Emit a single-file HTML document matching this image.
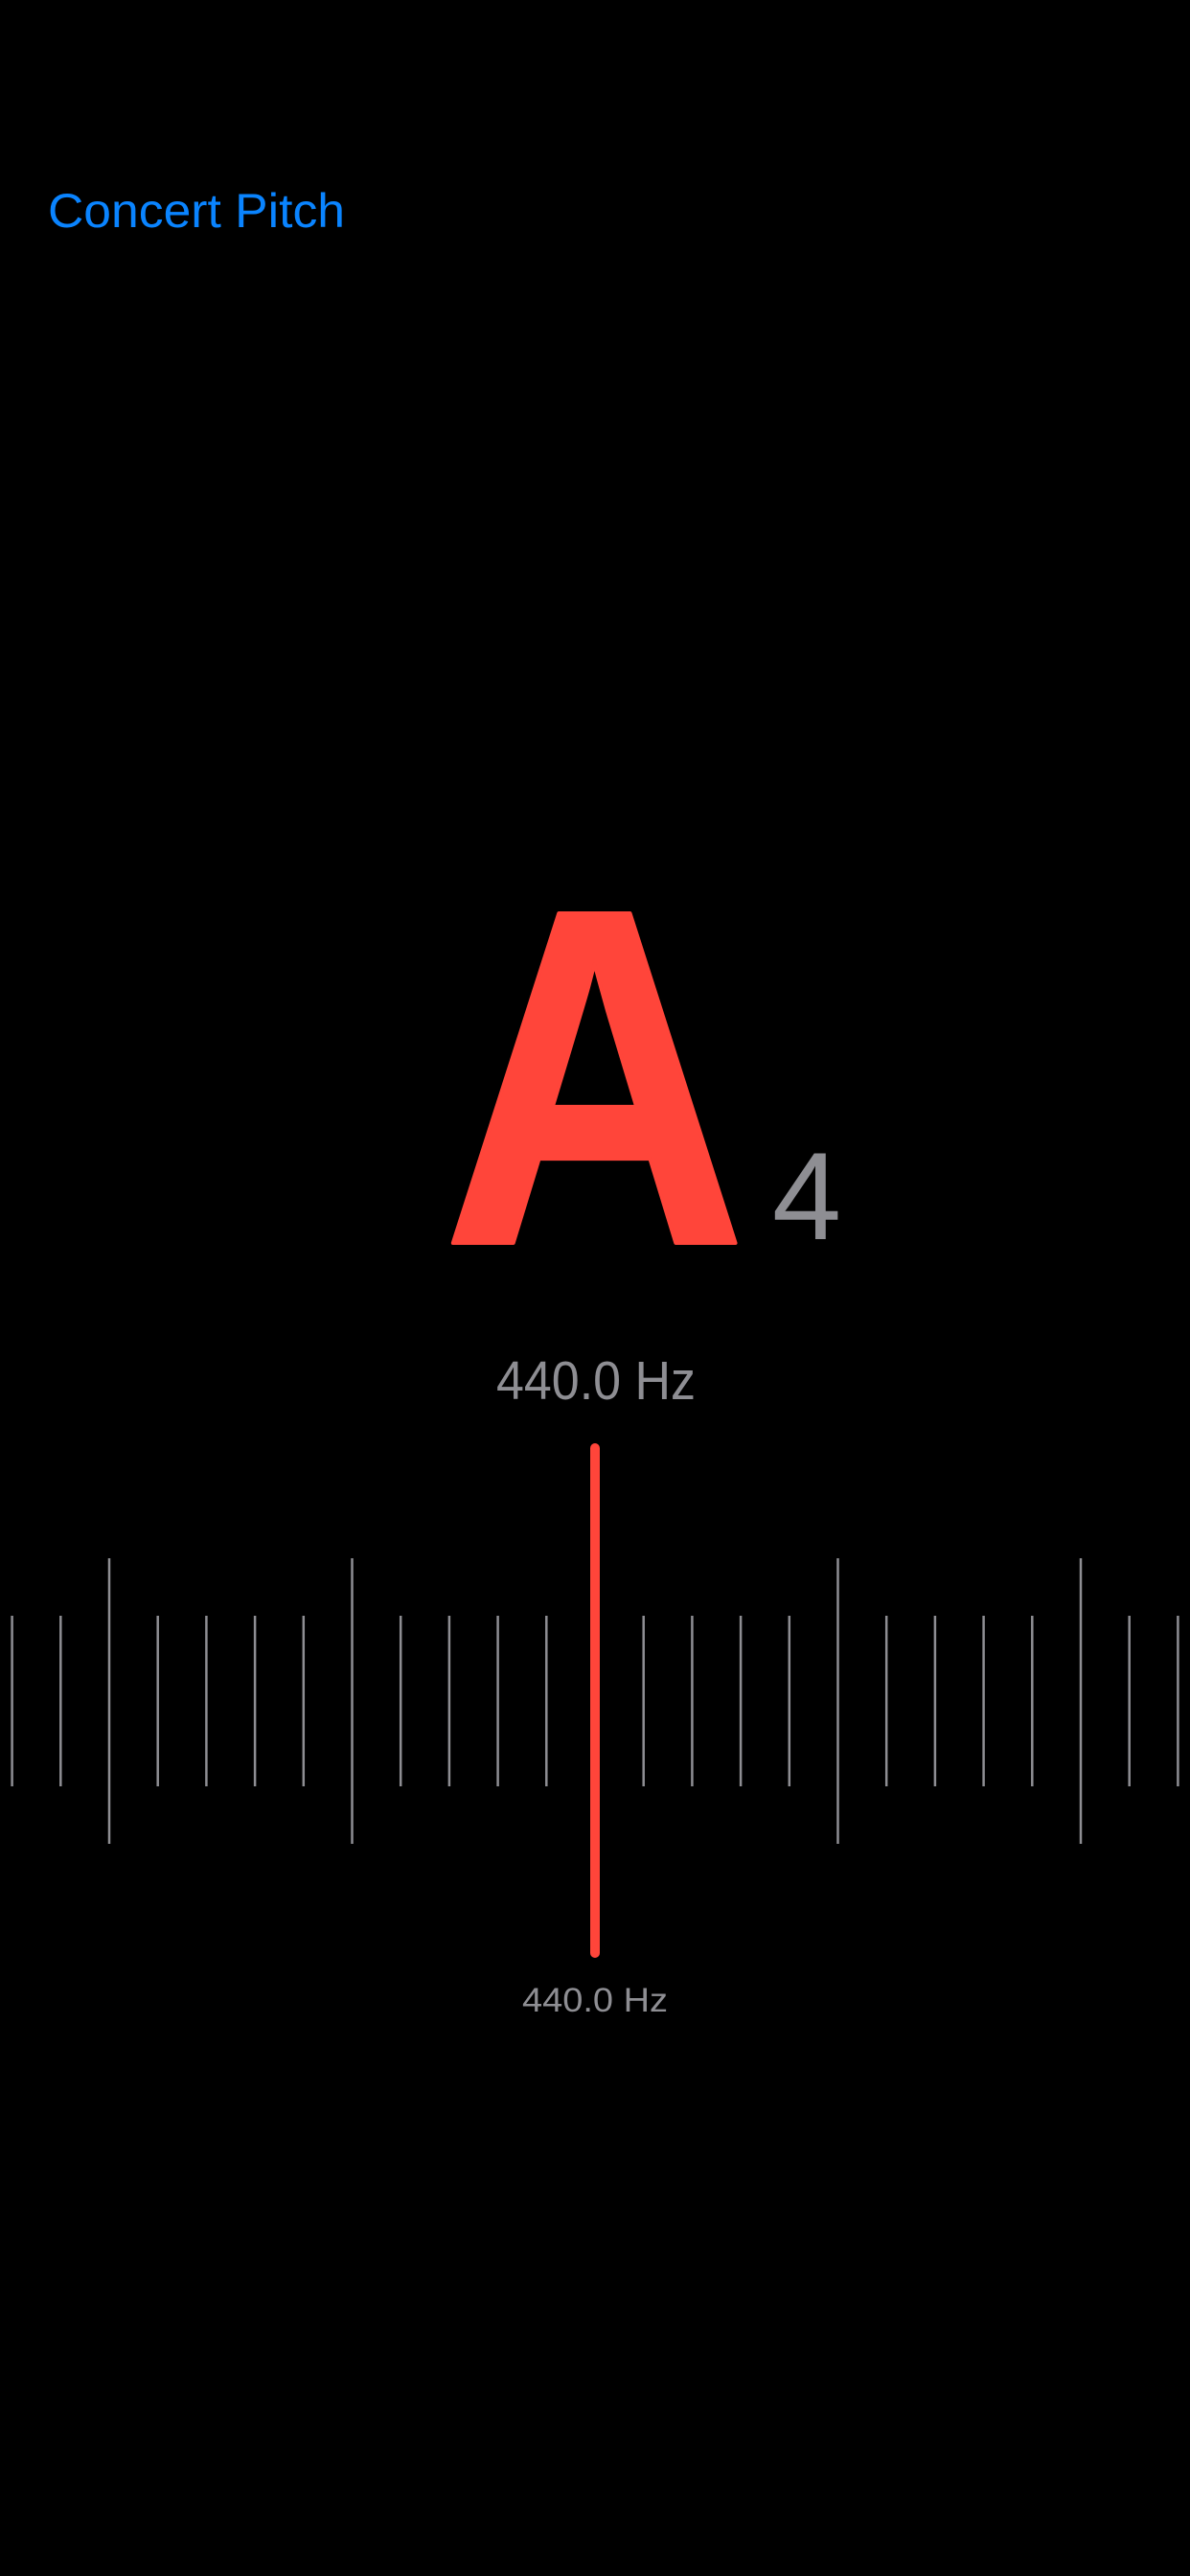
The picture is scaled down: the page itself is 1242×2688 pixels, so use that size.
<!DOCTYPE html>
<html>
<head>
<meta charset="utf-8">
<style>
html,body{margin:0;padding:0;background:#000;width:1242px;height:2688px;overflow:hidden;}
svg{display:block;}
text{font-family:"Liberation Sans","DejaVu Sans",sans-serif;}
</style>
</head>
<body>
<svg id="page" width="1242" height="2688" viewBox="0 0 1242 2688" xmlns="http://www.w3.org/2000/svg">
  <rect x="0" y="0" width="1242" height="2688" fill="#000"/>
  <text x="50" y="237" font-size="50" fill="#0A84FF" textLength="310" lengthAdjust="spacingAndGlyphs">Concert Pitch</text>
  <g>
    <text x="0" y="0" font-size="500" font-weight="bold" fill="#FF453A" stroke="#FF453A" stroke-width="4" stroke-linejoin="round" transform="translate(620.5 1297) scale(0.88 1)" text-anchor="middle">A</text>
    <text x="842" y="1293" font-size="130" fill="#8E8E93" text-anchor="middle">4</text>
  </g>
  <text x="622" y="1460" font-size="57" fill="#8E8E93" text-anchor="middle" textLength="208" lengthAdjust="spacingAndGlyphs">440.0 Hz</text>
  <g id="scale"></g>
  <text x="621" y="2099" font-size="35" fill="#8E8E93" text-anchor="middle" textLength="152" lengthAdjust="spacingAndGlyphs">440.0 Hz</text>
</svg>
<script>
// Tick offsets in cents-steps relative to the target pitch
const tickOffsets = [-12,-11,-10,-9,-8,-7,-6,-5,-4,-3,-2,-1,1,2,3,4,5,6,7,8,9,10,11,12];
const tickLong = [-10,-5,5,10];
const needleCents = [0];

const NS = "http://www.w3.org/2000/svg";
const centerX = 621, step = 50.7;
function xScale(v){ return centerX + v*step; }
const g = document.getElementById('scale');

tickOffsets.forEach(function(v){
  const isLong = tickLong.indexOf(v) >= 0;
  const l = document.createElementNS(NS,'rect');
  
  
  const x = xScale(v);
  l.setAttribute('x', x - 1.25);
  l.setAttribute('width', 2.5);
  l.setAttribute('y', isLong ? 1626 : 1686);
  l.setAttribute('height', isLong ? 298 : 178);
  l.setAttribute('fill', '#8E8E93');
  g.appendChild(l);
});

needleCents.forEach(function(v){
  const n = document.createElementNS(NS,'rect');
  
  
  n.setAttribute('x', xScale(v) - 5);
  n.setAttribute('y', 1506);
  n.setAttribute('width', 10);
  n.setAttribute('height', 537);
  n.setAttribute('rx', 5);
  n.setAttribute('fill', '#FF453A');
  g.appendChild(n);
});
</script>
</body>
</html>
